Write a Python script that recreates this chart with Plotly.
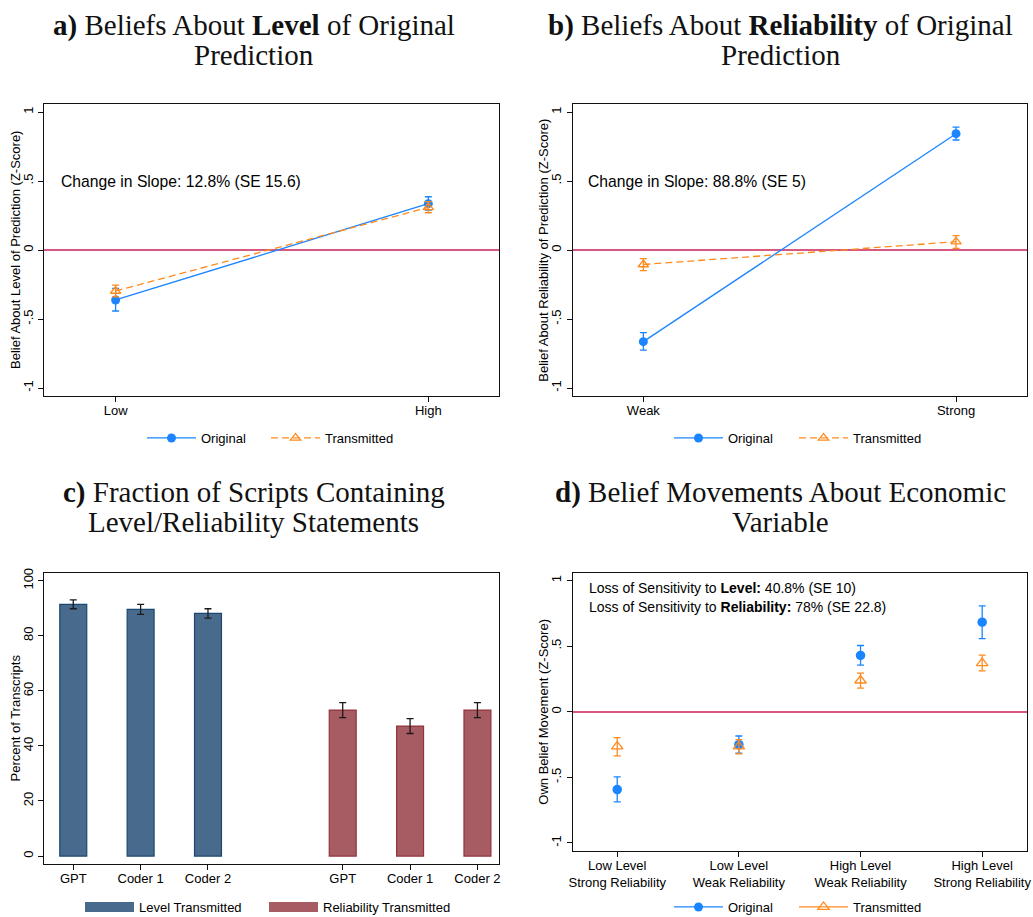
import plotly.graph_objects as go

# ---------------- data ----------------
# Panel a
a_cats = ["Low", "High"]
a_orig = [-0.362, 0.336]
a_orig_lo = [-0.442, 0.290]
a_orig_hi = [-0.278, 0.386]
a_trans = [-0.297, 0.309]
a_trans_lo = [-0.340, 0.270]
a_trans_hi = [-0.254, 0.350]

# Panel b
b_cats = ["Weak", "Strong"]
b_orig = [-0.664, 0.843]
b_orig_lo = [-0.725, 0.797]
b_orig_hi = [-0.599, 0.891]
b_trans = [-0.105, 0.060]
b_trans_lo = [-0.150, 0.012]
b_trans_hi = [-0.062, 0.104]

# Panel c
c_coders = ["GPT", "Coder 1", "Coder 2"]
c_level = [91.4, 89.6, 88.1]
c_level_se = [1.6, 1.8, 1.7]
c_rel = [53.0, 47.2, 53.0]
c_rel_se = [2.7, 2.7, 2.7]

# Panel d
d_cats = ["Low Level<br>Strong Reliability", "Low Level<br>Weak Reliability",
          "High Level<br>Weak Reliability", "High Level<br>Strong Reliability"]
d_orig = [-0.594, -0.251, 0.429, 0.683]
d_orig_lo = [-0.688, -0.315, 0.356, 0.558]
d_orig_hi = [-0.497, -0.185, 0.505, 0.807]
d_trans = [-0.265, -0.265, 0.238, 0.371]
d_trans_lo = [-0.337, -0.322, 0.180, 0.312]
d_trans_hi = [-0.198, -0.213, 0.295, 0.432]

z_ticks = [-1, -0.5, 0, 0.5, 1]
z_ticktext = ["-1", "-.5", "0", ".5", "1"]
c_ticks = [0, 20, 40, 60, 80, 100]

# ---------------- style ----------------
W, H = 1033, 917
SANS = "Liberation Sans, Arial, Helvetica, sans-serif"
SERIF = "Liberation Serif, Times New Roman, serif"
BLUE = "#1a85ff"
ORANGE = "#ff8a1c"
PINK = "#d8587f"
NAVY_F, NAVY_L = "#486a8c", "#1a476f"
MAR_F, MAR_L = "#a65c62", "#90353b"


def px_x(v):
    return v / W


def px_y(v):
    return 1 - v / H


def err(vals, lo, hi):
    return dict(type="data", symmetric=False,
                array=[h - v for v, h in zip(vals, hi)],
                arrayminus=[v - l for v, l in zip(vals, lo)])


fig = go.Figure()

# ---- panel a & b ----
for (cats, o, olo, ohi, t, tlo, thi, xa, ya, lo_, lt_) in [
    (a_cats, a_orig, a_orig_lo, a_orig_hi, a_trans, a_trans_lo, a_trans_hi, "x", "y", "legend", "legend2"),
    (b_cats, b_orig, b_orig_lo, b_orig_hi, b_trans, b_trans_lo, b_trans_hi, "x2", "y2", "legend3", "legend4"),
]:
    fig.add_trace(go.Scatter(
        x=cats, y=o, mode="lines+markers", name="Original",
        line=dict(color=BLUE, width=1.3),
        marker=dict(symbol="circle", size=9, color=BLUE),
        error_y=dict(**err(o, olo, ohi), color=BLUE, thickness=1.3, width=3.5),
        xaxis=xa, yaxis=ya, legend=lo_, showlegend=True))
    fig.add_trace(go.Scatter(
        x=cats, y=t, mode="lines+markers", name="Transmitted",
        line=dict(color=ORANGE, width=1.3, dash="7px,4px"),
        marker=dict(symbol="triangle-up-open", size=9, color=ORANGE, line=dict(width=1.3)),
        error_y=dict(**err(t, tlo, thi), color=ORANGE, thickness=1.3, width=3.5),
        xaxis=xa, yaxis=ya, legend=lt_, showlegend=True))

# ---- panel c ----
lev_keys = ["Level|" + c for c in c_coders]
rel_keys = ["Reliability|" + c for c in c_coders]
gap_key = " "
fig.add_trace(go.Bar(
    x=lev_keys, y=c_level, width=0.4, name="Level Transmitted",
    marker=dict(color=NAVY_F, line=dict(color=NAVY_L, width=1.2)),
    error_y=dict(type="data", array=c_level_se, color="#1a1a1a", thickness=1.3, width=3.5),
    xaxis="x3", yaxis="y3", showlegend=False))
fig.add_trace(go.Bar(
    x=rel_keys, y=c_rel, width=0.4, name="Reliability Transmitted",
    marker=dict(color=MAR_F, line=dict(color=MAR_L, width=1.2)),
    error_y=dict(type="data", array=c_rel_se, color="#1a1a1a", thickness=1.3, width=3.5),
    xaxis="x3", yaxis="y3", showlegend=False))
# legend entries for c
fig.add_trace(go.Scatter(x=[None], y=[None], mode="lines", name="Level Transmitted",
                         line=dict(color=NAVY_F, width=12), xaxis="x3", yaxis="y3",
                         legend="legend5", showlegend=True))
fig.add_trace(go.Scatter(x=[None], y=[None], mode="lines", name="Reliability Transmitted",
                         line=dict(color=MAR_F, width=12), xaxis="x3", yaxis="y3",
                         legend="legend6", showlegend=True))

# ---- panel d ----
fig.add_trace(go.Scatter(
    x=d_cats, y=d_orig, mode="markers", name="Original",
    marker=dict(symbol="circle", size=9.5, color=BLUE),
    error_y=dict(**err(d_orig, d_orig_lo, d_orig_hi), color=BLUE, thickness=1.3, width=3.5),
    xaxis="x4", yaxis="y4", showlegend=False))
fig.add_trace(go.Scatter(
    x=d_cats, y=d_trans, mode="markers", name="Transmitted",
    marker=dict(symbol="triangle-up-open", size=10, color=ORANGE, line=dict(width=1.3)),
    error_y=dict(**err(d_trans, d_trans_lo, d_trans_hi), color=ORANGE, thickness=1.3, width=3.5),
    xaxis="x4", yaxis="y4", showlegend=False))
fig.add_trace(go.Scatter(x=[None], y=[None], mode="lines+markers", name="Original",
                         line=dict(color=BLUE, width=1.3),
                         marker=dict(symbol="circle", size=9, color=BLUE),
                         xaxis="x4", yaxis="y4", legend="legend7", showlegend=True))
fig.add_trace(go.Scatter(x=[None], y=[None], mode="lines+markers", name="Transmitted",
                         line=dict(color=ORANGE, width=1.3),
                         marker=dict(symbol="triangle-up-open", size=10, color=ORANGE, line=dict(width=1.3)),
                         xaxis="x4", yaxis="y4", legend="legend8", showlegend=True))

# ---------------- axes ----------------
axis_common = dict(showline=True, mirror=True, linecolor="#111", linewidth=1.3,
                   ticks="outside", ticklen=5, tickwidth=1, tickcolor="#111",
                   showgrid=False, zeroline=False, automargin=False,
                   tickfont=dict(family=SANS, size=13, color="#000"))


def xax(d0, d1, anchor, **kw):
    d = dict(axis_common)
    d.update(domain=[px_x(d0), px_x(d1)], anchor=anchor, ticklabelstandoff=-3)
    d.update(kw)
    return d


def yax(top, bot, anchor, **kw):
    d = dict(axis_common)
    d.update(domain=[px_y(bot), px_y(top)], anchor=anchor, tickangle=-90)
    d.update(kw)
    return d


zkw = dict(range=[-1.058, 1.058], tickvals=z_ticks, ticktext=z_ticktext,
           zeroline=True, zerolinecolor=PINK, zerolinewidth=1.6)

fig.update_layout(
    width=W, height=H, margin=dict(l=0, r=0, t=0, b=0, autoexpand=False),
    paper_bgcolor="white", plot_bgcolor="white",
    font=dict(family=SANS, size=13, color="#000"),
    xaxis=xax(44, 499, "y", type="category", range=[-0.229, 1.226]),
    yaxis=yax(104, 396, "x", **zkw),
    xaxis2=xax(572.7, 1026.7, "y2", type="category", range=[-0.226, 1.226]),
    yaxis2=yax(104, 396, "x2", **zkw),
    xaxis3=xax(44.3, 499, "y3", type="category", categoryorder="array",
               categoryarray=lev_keys + [gap_key] + rel_keys,
               tickvals=lev_keys + rel_keys, ticktext=c_coders + c_coders,
               range=[-0.43, 6.32]),
    yaxis3=yax(572.7, 864.3, "x3", range=[-3.0, 102.9], tickvals=c_ticks),
    xaxis4=xax(572.7, 1026.7, "y4", type="category", range=[-0.366, 3.366]),
    yaxis4=yax(572.7, 851, "x4",
               range=[-1.062, 1.060], tickvals=z_ticks, ticktext=z_ticktext,
               zeroline=True, zerolinecolor=PINK, zerolinewidth=1.6),
    barmode="overlay",
)


def leg(xpx, ypx, iw=49):
    return dict(x=px_x(xpx), y=px_y(ypx), xanchor="left", yanchor="middle",
                orientation="h", bgcolor="rgba(0,0,0,0)", borderwidth=0,
                font=dict(family=SANS, size=13, color="#000"), itemwidth=iw)


fig.update_layout(
    legend=leg(142, 438), legend2=leg(266, 438),
    legend3=leg(669, 438), legend4=leg(794, 438),
    legend5=leg(80, 907), legend6=leg(264, 907),
    legend7=leg(669, 907), legend8=leg(794, 907),
)

# ---------------- text ----------------
ann = []
titles = [
    ("<b>a)</b> Beliefs About <b>Level</b> of Original", "Prediction", 253.5, 26, 55),
    ("<b>b)</b> Beliefs About <b>Reliability</b> of Original", "Prediction", 780.5, 26, 55),
    ("<b>c)</b> Fraction of Scripts Containing", "Level/Reliability Statements", 253.5, 492, 522),
    ("<b>d)</b> Belief Movements About Economic", "Variable", 780.5, 492, 522),
]
for l1, l2, cx, y1, y2 in titles:
    for txt, yy in [(l1, y1), (l2, y2)]:
        ann.append(dict(text=txt, x=px_x(cx), y=px_y(yy), xref="paper", yref="paper",
                        xanchor="center", yanchor="middle", showarrow=False,
                        font=dict(family=SERIF, size=29, color="#111")))

# y-axis titles
ytitles = [
    ("Belief About Level of Prediction (Z-Score)", 15, 250),
    ("Belief About Reliability of Prediction (Z-Score)", 542.7, 250),
    ("Percent of Transcripts", 15, 718.5),
    ("Own Belief Movement (Z-Score)", 542.7, 712),
]
for txt, xx, yy in ytitles:
    ann.append(dict(text=txt, x=px_x(xx), y=px_y(yy), xref="paper", yref="paper",
                    xanchor="center", yanchor="middle", showarrow=False, textangle=-90,
                    font=dict(family=SANS, size=13, color="#000")))

ann.append(dict(text="Change in Slope: 12.8% (SE 15.6)", x=px_x(59), y=px_y(181.7),
                xref="paper", yref="paper", xanchor="left", yanchor="middle", showarrow=False,
                font=dict(family=SANS, size=15.7, color="#000")))
ann.append(dict(text="Change in Slope: 88.8% (SE 5)", x=px_x(586), y=px_y(181.7),
                xref="paper", yref="paper", xanchor="left", yanchor="middle", showarrow=False,
                font=dict(family=SANS, size=15.7, color="#000")))
ann.append(dict(text="Loss of Sensitivity to <b>Level:</b> 40.8% (SE 10)", x=px_x(587), y=px_y(588.3),
                xref="paper", yref="paper", xanchor="left", yanchor="middle", showarrow=False,
                font=dict(family=SANS, size=14, color="#000")))
ann.append(dict(text="Loss of Sensitivity to <b>Reliability:</b> 78% (SE 22.8)", x=px_x(587), y=px_y(607.3),
                xref="paper", yref="paper", xanchor="left", yanchor="middle", showarrow=False,
                font=dict(family=SANS, size=14, color="#000")))
fig.update_layout(annotations=ann)

fig.write_html("out.html", config={"displayModeBar": False},
               post_script="document.body.style.margin='0';document.body.style.overflow='hidden';")
